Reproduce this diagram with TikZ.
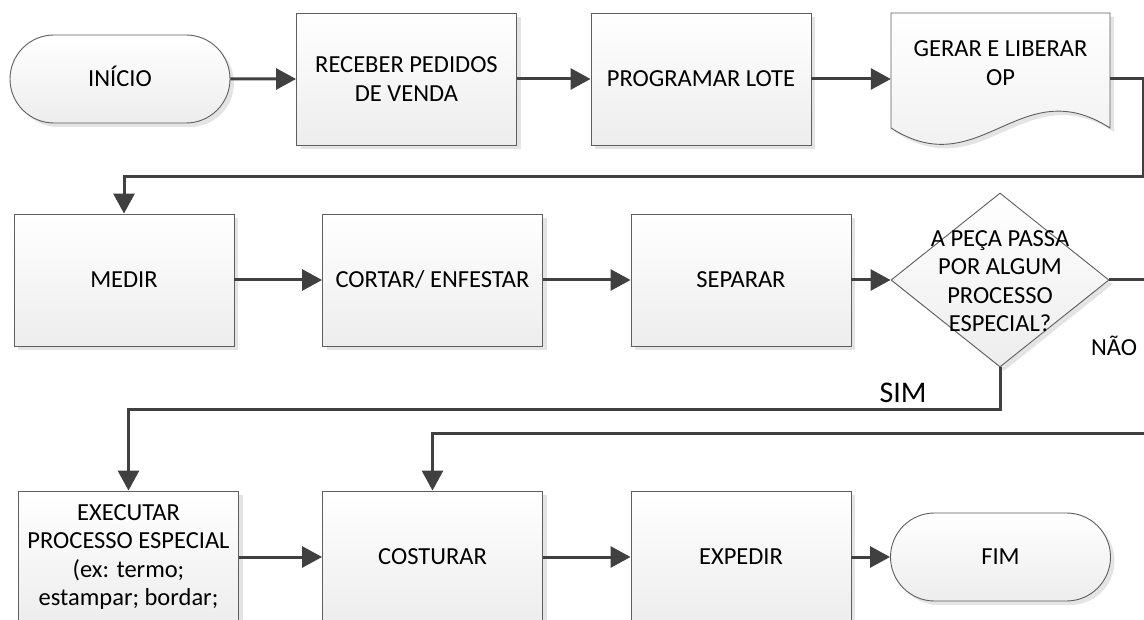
\documentclass[tikz,border=0pt]{standalone}
\usepackage{fontspec}
\setmainfont{Carlito}
\usetikzlibrary{arrows.meta,shapes.geometric,shapes.misc,shadows}

\definecolor{linegray}{HTML}{404040}
\definecolor{edgegray}{HTML}{5E5E5E}
\definecolor{shadowgray}{HTML}{E4E4E4}
\definecolor{fillbottom}{HTML}{EDEDED}

\newcommand\flowfont{\fontsize{24.5}{28.5}\selectfont}

\tikzset{
  shapebase/.style={draw=edgegray, line width=0.9pt, top color=white,
    bottom color=fillbottom, inner sep=0pt, align=center, font=\flowfont,
    general shadow={fill=shadowgray, shadow xshift=4pt, shadow yshift=-4pt}},
  procbox/.style={shapebase, rectangle, minimum width=220pt, minimum height=132pt},
  termbox/.style={shapebase, rounded rectangle, minimum width=220pt, minimum height=88pt},
  decbox/.style={shapebase, diamond, minimum width=218pt, minimum height=174pt},
  conn/.style={draw=linegray, line width=3pt, -{Triangle[length=20pt,width=21pt]}},
  plainlabel/.style={font=\flowfont, align=center, inner sep=0pt},
}

\begin{document}
\begin{tikzpicture}[x=1pt, y=-1pt]
\useasboundingbox (0,0) rectangle (1144,620);
\clip (0,0) rectangle (1144,620);

% ---- first row
\node[termbox, text height=15.8pt, text depth=0pt] (inicio) at (120,79) {INÍCIO};
\node[procbox] (receber) at (406.5,79) {RECEBER PEDIDOS\\DE VENDA};
\node[procbox] (programar) at (701,79) {PROGRAMAR LOTE};

% document shape with wavy bottom
\begin{scope}[shift={(4,4)}]
  \fill[shadowgray] (891,13) -- (1110,13) -- (1110,128)
    .. controls (1020,70) and (980,185) .. (891,128) -- cycle;
\end{scope}
\draw[draw=edgegray, line width=0.9pt, top color=white, bottom color=fillbottom]
  (891,13) -- (1110,13) -- (1110,128)
  .. controls (1020,70) and (980,185) .. (891,128) -- cycle;
\node[rectangle, minimum width=219pt, minimum height=132pt, inner sep=0pt] (gerar) at (1000.5,79) {};
\node[plainlabel] (gerartxt) at (1000.5,63) {GERAR E LIBERAR\\OP};

% ---- second row
\node[procbox] (medir) at (124,280) {MEDIR};
\node[procbox] (cortar) at (432.5,280) {CORTAR/ ENFESTAR};
\node[procbox] (separar) at (741,280) {SEPARAR};
\node[decbox] (decisao) at (1000,280) {};
\node[plainlabel] (pergunta) at (1000,281) {A PEÇA PASSA\\POR ALGUM\\PROCESSO\\ESPECIAL?};

% ---- third row
\node[procbox] (executar) at (128.5,557) {EXECUTAR\\PROCESSO ESPECIAL\\(ex: termo;\\estampar; bordar;};
\node[procbox] (costurar) at (432.5,557) {COSTURAR};
\node[procbox] (expedir) at (741,557) {EXPEDIR};
\node[termbox] (fim) at (1000.5,557) {FIM};

% ---- branch labels
\node[plainlabel, font=\fontsize{30}{34}\selectfont] (sim) at (903,393) {SIM};
\node[plainlabel] (nao) at (1114,346) {NÃO};

% ---- routing points
\coordinate (volta) at (1143,177);
\coordinate (simdesce) at (1000,410);
\coordinate (naodesce) at (1170,433);

% ---- connectors
\draw[conn] (inicio) -- (receber);
\draw[conn] (receber) -- (programar);
\draw[conn] (programar) -- (gerar);
\draw[conn] (gerar.east) -| (volta) -| (medir.north);
\draw[conn] (medir) -- (cortar);
\draw[conn] (cortar) -- (separar);
\draw[conn] (separar) -- (decisao);
\draw[conn] (decisao.south) -- (simdesce) -| (executar.north);
\draw[conn] (decisao.east) -| (naodesce) -| (costurar.north);
\draw[conn] (executar) -- (costurar);
\draw[conn] (costurar) -- (expedir);
\draw[conn] (expedir) -- (fim);
\end{tikzpicture}
\end{document}
